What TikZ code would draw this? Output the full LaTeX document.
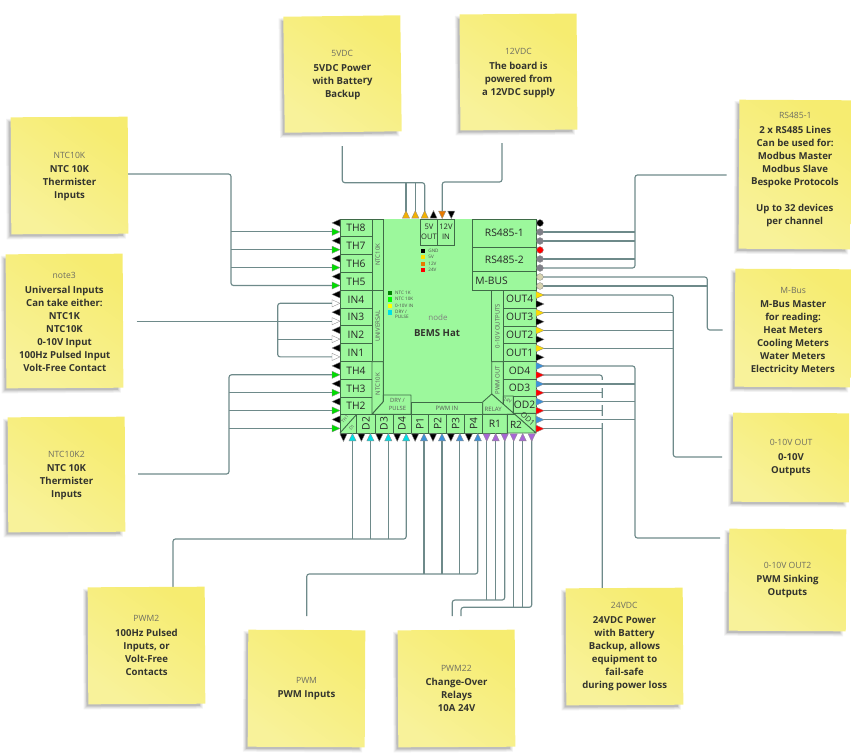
\documentclass[tikz,border=0pt]{standalone}
\usepackage{fontspec}
\setmainfont{Open Sans}
\usetikzlibrary{backgrounds,calc}
\definecolor{wirecol}{HTML}{6E8A8A}
\definecolor{boardgreen}{HTML}{9CF89C}
\definecolor{celledge}{HTML}{3F6B47}
\definecolor{stickya}{HTML}{F6EC70}
\definecolor{stickyb}{HTML}{F8F29A}
\definecolor{titlegray}{HTML}{6E6E62}
\definecolor{bodydark}{HTML}{33342E}
\definecolor{pingreen}{HTML}{00DD00}
\definecolor{pincyan}{HTML}{00E0E6}
\definecolor{pinblue}{HTML}{3C92D8}
\definecolor{pinpurple}{HTML}{A866D6}
\definecolor{pinyellow}{HTML}{FFDD00}
\definecolor{pinamber}{HTML}{F4B000}
\definecolor{pinorange}{HTML}{E87A00}
\definecolor{pingray}{HTML}{808088}
\definecolor{pinbeige}{HTML}{D8D4B0}
\definecolor{legenddark}{HTML}{008000}
\definecolor{legendgreen}{HTML}{00FF00}
\definecolor{legendyellow}{HTML}{FFFF00}
\definecolor{legendred}{HTML}{FF0000}
\tikzset{
  wire/.style={draw=wirecol,line width=1.15pt,rounded corners=2.5pt},
  pinshape/.style={draw=black!45,line width=.35pt},
  cellbox/.style={draw=celledge,line width=.9pt,fill=boardgreen,inner sep=0pt,outer sep=0pt,
    text=black!85,font=\fontsize{10.3}{11}\selectfont},
  poly/.style={draw=celledge,line width=.9pt,fill=boardgreen,line join=round},
  tiny label/.style={inner sep=0pt,text=black!65,font=\fontsize{6}{7}\selectfont},
  legend text/.style={inner sep=0pt,anchor=west,text=black!70,align=left,font=\fontsize{4.6}{5}\selectfont},
  sticky/.style={inner sep=0pt,outer sep=0pt,top color=stickya,bottom color=stickyb,shading angle=-35},
  sticky text/.style={inner sep=0pt,align=center,text=bodydark,font=\fontsize{9.6}{13}\selectfont\bfseries},
}
% name, x1, y1, x2, y2, tilt, title, body, vertical offset of the text
\newcommand\stickynote[9]{%
  \foreach \d/\o in {3.5/.05,2.5/.06,1.5/.08,.6/.10}{%
    \fill[black,opacity=\o,rotate around={#6:({(#2+#4)/2},{(#3+#5)/2})}]
      (#2-1.2-\d,#3+5-\d) rectangle (#4-6+\d,#5+1.5+\d);}%
  \node[sticky,minimum width={#4-#2},minimum height={#5-#3},rotate=#6] (#1)
    at ({(#2+#4)/2},{(#3+#5)/2}) {};
  \node[sticky text,rotate=#6] (#1t) at ({(#2+#4)/2},{(#3+#5)/2+#9})
    {{\fontsize{8.6}{11}\selectfont\mdseries\color{titlegray}#7}\\[1.5pt]#8};}
% name, x1, y1, x2, y2, text
\newcommand\boardcell[6]{%
  \node[cellbox,minimum width={#4-#2},minimum height={#5-#3}] (#1)
    at ({(#2+#4)/2},{(#3+#5)/2}) {#6};}
\newcommand\stripcell[6]{%
  \node[cellbox,minimum width={#4-#2},minimum height={#5-#3},text=black!65,font=\fontsize{6}{7}\selectfont] (#1)
    at ({(#2+#4)/2},{(#3+#5)/2}) {\rotatebox{90}{#6}};}
\newcommand\rotcell[6]{%
  \node[cellbox,minimum width={#4-#2},minimum height={#5-#3}] (#1)
    at ({(#2+#4)/2},{(#3+#5)/2}) {\rotatebox{90}{#6}};}
% terminal markers: name, x, y, colour
\newcommand\pinR[4]{\coordinate (#1) at (#2,#3);\path[pinshape,fill=#4] (#2+4,#3) -- (#2-4,#3-3.6) -- (#2-4,#3+3.6) -- cycle;}
\newcommand\pinL[4]{\coordinate (#1) at (#2,#3);\path[pinshape,fill=#4] (#2-4,#3) -- (#2+4,#3-3.6) -- (#2+4,#3+3.6) -- cycle;}
\newcommand\pinU[4]{\coordinate (#1) at (#2,#3);\path[pinshape,fill=#4] (#2,#3-4) -- (#2-3.6,#3+3.5) -- (#2+3.6,#3+3.5) -- cycle;}
\newcommand\pinD[4]{\coordinate (#1) at (#2,#3);\path[pinshape,fill=#4] (#2,#3+4) -- (#2-3.6,#3-3.5) -- (#2+3.6,#3-3.5) -- cycle;}
\newcommand\pinC[4]{\coordinate (#1) at (#2,#3);\path[pinshape,fill=#4] (#2,#3) circle (3.4);}
\begin{document}
\begin{tikzpicture}[x=1pt,y=-1pt]
\useasboundingbox (0,0) rectangle (851,753);

% ---- sticky notes ----
\stickynote{nNTC}{11}{117}{128}{234}{.3}{NTC10K}{NTC 10K\\Thermister\\Inputs}{1}
\stickynote{nUni}{6}{254}{123}{388}{.3}{note3}{Universal Inputs\\Can take either:\\NTC1K\\NTC10K\\0-10V Input\\100Hz Pulsed Input\\Volt-Free Contact}{1}
\stickynote{nNTCb}{8}{417}{125}{532}{.3}{NTC10K2}{NTC 10K\\Thermister\\Inputs}{1}
\stickynote{nFive}{284}{16}{401}{132}{.7}{5VDC}{5VDC Power\\with Battery\\Backup}{1}
\stickynote{nTwelve}{460}{14}{577}{130}{.4}{12VDC}{The board is\\powered from\\a 12VDC supply}{1}
\stickynote{nRS}{739}{100}{851}{249}{-.3}{RS485-1}{2 x RS485 Lines\\Can be used for:\\Modbus Master\\Modbus Slave\\Bespoke Protocols\\~\\Up to 32 devices\\per channel}{-5}
\stickynote{nMBus}{735}{269}{851}{387}{-.3}{M-Bus}{M-Bus Master\\for reading:\\Heat Meters\\Cooling Meters\\Water Meters\\Electricity Meters}{3}
\stickynote{nOutA}{733}{413}{849}{502}{-.3}{0-10V OUT}{0-10V\\Outputs}{0}
\stickynote{nOutB}{729}{529}{846}{631}{-.3}{0-10V OUT2}{PWM Sinking\\Outputs}{0}
\stickynote{nDC}{566}{588}{683}{705}{.3}{24VDC}{24VDC Power\\with Battery\\Backup, allows\\equipment to\\fail-safe\\during power loss}{0}
\stickynote{nRelay}{398}{630}{515}{747}{.3}{PWM22}{Change-Over\\Relays\\10A 24V}{0}
\stickynote{nPWM}{248}{630}{365}{747}{-.3}{PWM}{PWM Inputs}{0}
\stickynote{nPulse}{88}{587}{205}{704}{.3}{PWM2}{100Hz Pulsed\\Inputs, or\\Volt-Free\\Contacts}{0}

% ---- board body ----
\fill[boardgreen] (340,219) rectangle (536,433);
\node[inner sep=0pt,text=black!50,font=\fontsize{8}{9}\selectfont] (bName) at (438,317.5) {node};
\node[inner sep=0pt,text=bodydark,font=\fontsize{9.6}{11}\selectfont\bfseries] (bTitle) at (437,333) {BEMS Hat};

% left input column
\boardcell{cTHviii}{340}{219}{372}{236.8}{TH8}
\boardcell{cTHvii}{340}{236.8}{372}{254.8}{TH7}
\boardcell{cTHvi}{340}{254.8}{372}{272.8}{TH6}
\boardcell{cTHv}{340}{272.8}{372}{290.7}{TH5}
\boardcell{cINiv}{340}{290.7}{372}{308.4}{IN4}
\boardcell{cINiii}{340}{308.4}{372}{325.4}{IN3}
\boardcell{cINii}{340}{325.4}{372}{343.4}{IN2}
\boardcell{cINi}{340}{343.4}{372}{361.7}{IN1}
\boardcell{cTHiv}{340}{361.7}{372}{379.7}{TH4}
\boardcell{cTHiii}{340}{379.7}{372}{397.3}{TH3}
\boardcell{cTHii}{340}{397.3}{372}{414.3}{TH2}
\stripcell{sNTCa}{372}{219}{383.3}{290.7}{NTC10K}
\stripcell{sUni}{372}{290.7}{383.3}{361.7}{UNIVERSAL}
\draw[poly] (372,361.7) -- (383.3,361.7) -- (383.3,401.7) -- (372,414.3) -- cycle;
\node[tiny label] (sNTCb) at (377.6,384) {\rotatebox{90}{NTC10K}};
\draw[poly] (383.3,395) -- (411,395) -- (411,414.3) -- (372,414.3) -- (383.3,401.7) -- cycle;
\node[tiny label,align=center,font=\fontsize{5.8}{8}\selectfont] (sDry) at (397.5,404.5) {DRY /\\PULSE};

% bottom row
\draw[poly] (340,414.3) rectangle (356.7,433);
\draw[poly] (340,433) -- (356.7,414.3);
\node[tiny label,rotate=48,font=\fontsize{4.4}{5}\selectfont] (sTHi) at (345,419) {TH1};
\node[tiny label,rotate=48,font=\fontsize{4.4}{5}\selectfont] (sDi) at (351.8,427.6) {D1};
\rotcell{cDii}{356.7}{414.3}{375}{433}{D2}
\rotcell{cDiii}{375}{414.3}{393}{433}{D3}
\rotcell{cDiv}{393}{414.3}{411}{433}{D4}
\rotcell{cPi}{411}{414.3}{428.7}{433}{P1}
\rotcell{cPii}{428.7}{414.3}{446.7}{433}{P2}
\rotcell{cPiii}{446.7}{414.3}{464.7}{433}{P3}
\rotcell{cPiv}{464.7}{414.3}{482.7}{433}{P4}
\node[cellbox,minimum width=71.7pt,minimum height=12.3pt,text=black!65,font=\fontsize{6}{7}\selectfont] (sPWMin) at (446.85,408.15) {PWM IN};

% right output column
\boardcell{cRSi}{472.7}{219}{536}{247.3}{RS485-1}
\boardcell{cRSii}{472.7}{247.3}{536}{271.7}{RS485-2}
\node[cellbox,minimum width=63.3pt,minimum height=18.6pt,text width=58pt,align=left] (cMBus) at (504.35,281) {M-BUS};
\boardcell{cOUTiv}{503.3}{290.3}{536}{308}{OUT4}
\boardcell{cOUTiii}{503.3}{308}{536}{326}{OUT3}
\boardcell{cOUTii}{503.3}{326}{536}{343.5}{OUT2}
\boardcell{cOUTi}{503.3}{343.5}{536}{361.7}{OUT1}
\boardcell{cODiv}{503.3}{361.7}{536}{379}{OD4}
\boardcell{cODiii}{503.3}{379}{536}{396}{OD3}
\stripcell{sOuts}{491.7}{290.3}{503.3}{361.7}{0-10V OUTPUTS}
\draw[poly] (491.7,361.7) -- (503.3,361.7) -- (503.3,404.5) -- (491.7,394) -- cycle;
\node[tiny label] (sPWMout) at (497.5,380) {\rotatebox{90}{PWM OUT}};
\draw[poly] (503.3,396) -- (513.3,396) -- (513.3,413.3) -- (503.3,404.5) -- cycle;
\node[tiny label,rotate=-20,font=\fontsize{4.8}{5}\selectfont] (sTwentyFour) at (507.5,400.5) {24V};
\boardcell{cODii}{513.3}{396}{536}{413.3}{OD2}
\draw[poly] (513.3,413.3) -- (536,413.3) -- (536,433) -- cycle;
\node[inner sep=0pt,rotate=-41,text=black!80,font=\fontsize{7.6}{9}\selectfont] (cODi) at (527.8,418.8) {OD1};
\draw[poly] (482.7,402) -- (491.7,394) -- (514.8,414.3) -- (482.7,414.3) -- cycle;
\node[tiny label,anchor=west] (sRelay) at (484.5,409.3) {RELAY};
\boardcell{cRi}{482.7}{414.3}{507.3}{433}{R1}
\draw[poly] (507.3,414.3) -- (514.8,414.3) -- (536,433) -- (507.3,433) -- cycle;
\node[inner sep=0pt,text=black!85,font=\fontsize{10}{11}\selectfont] (cRii) at (516,425) {R2};

% supply inputs
\node[cellbox,minimum width=16.6pt,minimum height=26pt,align=center,font=\fontsize{7.6}{10}\selectfont] (cFive) at (429,232) {5V\\OUT};
\node[cellbox,minimum width=17.4pt,minimum height=26pt,align=center,font=\fontsize{7.6}{10}\selectfont] (cTwelve) at (446,232) {12V\\IN};

% legends
\foreach \nm/\y/\c/\t in {gA/250.7/black/GND,gB/257/pinyellow/5V,gC/263.5/pinorange/12V,gD/270/legendred/24V}{
  \fill[\c] (420.5,\y-2) rectangle (424.7,\y+2);
  \node[legend text] (\nm) at (428.2,\y) {\t};}
\foreach \nm/\y/\c/\t in {hA/293/legenddark/NTC 1K,hB/299.3/legendgreen/NTC 10K,hC/305.7/legendyellow/0-10V IN}{
  \fill[\c] (387.5,\y-2.2) rectangle (392,\y+2.2);
  \node[legend text] (\nm) at (395,\y) {\t};}
\fill[pincyan] (387.5,310.1) rectangle (392,314.5);
\node[legend text] (hD) at (395,314.4) {DRY /\\PULSE};

% ---- terminals: left edge ----
\foreach \nm/\y in {a/222.9,b/240.7,c/258.6,d/276.5,e/294.4,f/312.2,g/330.1,h/348,i/365.9,j/383.7,k/401.6,l/419.5}{
  \pinL{blk\nm}{336}{\y}{black}}
\foreach \nm/\y in {THviii/231.9,THvii/249.7,THvi/267.6,THv/285.5,THiv/374.8,THiii/392.7,THii/410.5,THi/428.4}{
  \pinR{p\nm}{336}{\y}{pingreen}}
\foreach \nm/\y in {INiv/303.3,INiii/321.2,INii/339.1,INi/356.9}{
  \pinR{p\nm}{336}{\y}{white}}
% bottom edge
\foreach \nm/\x in {a/343.5,b/361.4,c/379.3,d/397.2,e/415.1,f/433,g/450.9,h/468.8}{
  \pinD{bot\nm}{\x}{437.4}{black}}
\foreach \nm/\x in {Di/352.5,Dii/370.4,Diii/388.3,Div/406.2}{
  \pinU{p\nm}{\x}{437.4}{pincyan}}
\foreach \nm/\x in {Pi/424,Pii/442,Piii/459.9,Piv/477.8}{
  \pinU{p\nm}{\x}{437.4}{pinblue}}
\pinD{pRa}{486.7}{437.4}{pinpurple}
\pinU{pRb}{495.7}{437.4}{pinpurple}
\pinD{pRc}{504.7}{437.4}{pinpurple}
\pinD{pRd}{513.7}{437.4}{pinpurple}
\pinU{pRe}{522.7}{437.4}{pinpurple}
\pinD{pRf}{531.7}{437.4}{pinpurple}
% right edge
\pinC{tGnd}{540}{223}{black}
\pinC{tRSa}{540}{232}{pingray}
\pinC{tRSb}{540}{241}{pingray}
\pinC{tPow}{540}{250}{legendred}
\pinC{tRSc}{540}{259}{pingray}
\pinC{tRSd}{540}{268}{pingray}
\pinC{tMa}{540}{277}{pinbeige}
\pinC{tMb}{540}{286}{pinbeige}
\foreach \nm/\y in {OUTiv/295,OUTiii/312.8,OUTii/330.4,OUTi/348.3}{
  \pinR{p\nm}{540}{\y}{pinyellow}}
\foreach \nm/\y in {a/304,b/321.7,c/339.4,d/357.3}{
  \pinR{rblk\nm}{540}{\y}{black}}
\foreach \nm/\y in {ODiv/366,ODiii/384,ODii/401.7,ODi/419.7}{
  \pinR{p\nm}{540}{\y}{pinblue}}
\foreach \nm/\y in {ODiv/375,ODiii/392.8,ODii/410.7,ODi/428.7}{
  \pinR{q\nm}{540}{\y}{legendred}}
% top edge
\pinU{pFa}{406}{214.6}{pinamber}
\pinU{pFb}{415.3}{214.6}{pinamber}
\pinU{pFc}{424.7}{214.6}{pinamber}
\pinU{pFg}{433.5}{214.6}{black}
\pinD{pTw}{442.2}{214.6}{pinorange}
\pinD{pTg}{451.3}{214.6}{black}

% ---- free ends and bends of the connectors ----
\coordinate (fNTC) at (128,174);   \coordinate (jNTC) at (231,174);
\coordinate (fUni) at (136.7,321.2); \coordinate (jUni) at (277.7,321.2);
\coordinate (fNTCb) at (138,474);  \coordinate (jNTCb) at (229,474);
\coordinate (fFive) at (342.3,146); \coordinate (jFive) at (342.3,182.7);
\coordinate (fTwelve) at (502,143); \coordinate (jTwelve) at (502,182);
\coordinate (fRS) at (726.7,175);  \coordinate (jRS) at (635,175);
\coordinate (fM) at (722.7,330);   \coordinate (jM) at (707.3,330);
\coordinate (fOutA) at (722,457);  \coordinate (jOutA) at (673.3,457);
\coordinate (fOutB) at (720,538);  \coordinate (jOutB) at (635,538);
\coordinate (fDC) at (602.3,590);
\coordinate (fPulse) at (173,590); \coordinate (jPulse) at (173,539);
\coordinate (fPWM) at (306.7,616); \coordinate (jPWM) at (306.7,574);
\coordinate (fRelA) at (452.3,616); \coordinate (jRelA) at (452.3,600);
\coordinate (fRelB) at (461,616);  \coordinate (jRelB) at (461,607.3);

\begin{scope}[on background layer]
  % thermistor groups
  \draw[wire] (fNTC) -- (jNTC) |- (pTHv);
  \foreach \p in {pTHviii,pTHvii,pTHvi}{\draw[wire] (jNTC |- \p) -- (\p);}
  \draw[wire] (fNTCb) -- (jNTCb) |- (pTHiv);
  \foreach \p in {pTHiii,pTHii,pTHi}{\draw[wire] (jNTCb |- \p) -- (\p);}
  % universal inputs
  \draw[wire] (fUni) -- (pINiii);
  \draw[wire] (pINiv) -| (jUni) |- (pINi);
  \draw[wire] (jUni |- pINii) -- (pINii);
  % supply
  \draw[wire] (fFive) -- (jFive) -| (pFc);
  \foreach \p in {pFa,pFb}{\draw[wire] (\p |- jFive) -- (\p);}
  \draw[wire] (fTwelve) -- (jTwelve) -| (pTw);
  % serial buses
  \draw[wire] (fRS) -- (jRS) |- (tRSd);
  \foreach \p in {tRSa,tRSb,tRSc}{\draw[wire] (\p) -- (jRS |- \p);}
  \draw[wire] (tMa) -| (jM) -- (fM);
  \draw[wire] (tMb) -- (jM |- tMb);
  % analogue outputs
  \draw[wire] (pOUTiv) -| (jOutA) -- (fOutA);
  \foreach \p in {pOUTiii,pOUTii,pOUTi}{\draw[wire] (\p) -- (jOutA |- \p);}
  % 24V returns, broken where the sinking outputs pass over them
  \draw[wire] (qODiv) -| (fDC);
  \foreach \p in {qODiii,qODii,qODi}{\draw[wire] (\p) -- (fDC |- \p);}
  \foreach \p in {pODiii,pODii,pODi}{\fill[white] ($(fDC |- \p)+(-2.2,-3.6)$) rectangle ($(fDC |- \p)+(2.2,3.6)$);}
  % sinking outputs
  \draw[wire] (pODiv) -| (jOutB) -- (fOutB);
  \foreach \p in {pODiii,pODii,pODi}{\draw[wire] (\p) -- (jOutB |- \p);}
  % bottom groups
  \draw[wire] (pDiv) |- (jPulse) -- (fPulse);
  \foreach \p in {pDi,pDii,pDiii}{\draw[wire] (\p) -- (\p |- jPulse);}
  \draw[wire] (pPiv) |- (jPWM) -- (fPWM);
  \foreach \p in {pPi,pPii,pPiii}{\draw[wire] (\p) -- (\p |- jPWM);}
  \draw[wire] (pRc) |- (jRelA) -- (fRelA);
  \foreach \p in {pRa,pRb}{\draw[wire] (\p) -- (\p |- jRelA);}
  \draw[wire] (pRf) |- (jRelB) -- (fRelB);
  \foreach \p in {pRd,pRe}{\draw[wire] (\p) -- (\p |- jRelB);}
\end{scope}
\end{tikzpicture}
\end{document}
